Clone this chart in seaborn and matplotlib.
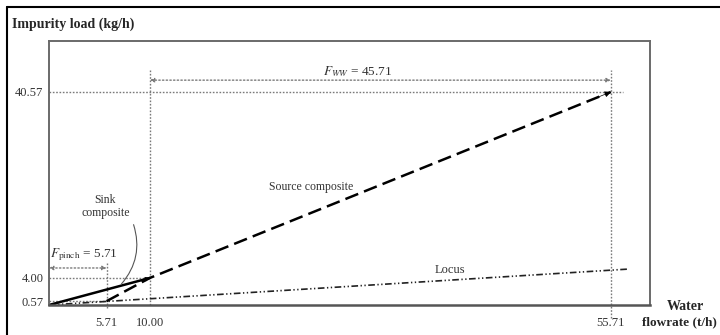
import numpy as np
import matplotlib
matplotlib.use("Agg")
import matplotlib.pyplot as plt
from matplotlib.lines import Line2D
import seaborn as sns

# Composite curves (water flowrate t/h, impurity load kg/h)
sink_flow = [0.0, 10.00]
sink_load = [0.0, 4.00]
source_flow = [5.71, 10.00, 55.71]
source_load = [0.57, 4.00, 40.57]
locus_flow = [0.0, 57.5]
locus_load = [0.0, 5.75]

pinch_flow = 5.71
pinch_load = 0.57
fresh_flow = 10.00
fresh_load = 4.00
end_flow = 55.71
end_load = 40.57
ww_flow = end_flow - fresh_flow        # 45.71
pinch_gap = pinch_flow                 # 5.71

x_ticks = [5.71, 10.00, 55.71]
y_ticks = [0.57, 4.00, 40.57]

sns.set_style("white")
plt.rcParams["font.family"] = ["Liberation Serif", "DejaVu Serif"]
plt.rcParams["mathtext.fontset"] = "stix"

# Schematic load axis: the low band (below the fresh-water load) is stretched
KNEE, STRETCH = 4.0, 1.33


def fwd(y):
    y = np.asarray(y, dtype=float)
    return np.where(y < KNEE, y * STRETCH, KNEE * STRETCH + (y - KNEE))


def inv(u):
    u = np.asarray(u, dtype=float)
    return np.where(u < KNEE * STRETCH, u / STRETCH, KNEE + (u - KNEE * STRETCH))


fig = plt.figure(figsize=(7.2, 3.35), dpi=100)
ax = fig.add_axes([49 / 720, 1 - 305 / 335, (650 - 49) / 720, (305 - 41) / 335])
ax.set_yscale("function", functions=(fwd, inv))
ax.set_xlim(0, 59.6)
ax.set_ylim(0, 50.6)

grey = "#7a7a7a"
dot = (0, (1.2, 1.2))

# Guide lines
ax.plot([0, fresh_flow], [fresh_load, fresh_load], color=grey, lw=1, ls=dot)
ax.plot([0, pinch_flow], [pinch_load, pinch_load], color=grey, lw=1, ls=dot)
ax.plot([0, 56.9], [end_load, end_load], color=grey, lw=1, ls=dot)
ax.plot([fresh_flow, fresh_flow], [0, 44.9], color=grey, lw=1, ls=dot)
ax.plot([pinch_flow, pinch_flow], [-0.5, 7.1], color=grey, lw=1, ls=dot, clip_on=False)
ax.plot([end_flow, end_flow], [-1.9, 44.9], color=grey, lw=1, ls=dot, clip_on=False)

# Composite curves and locus
sns.lineplot(x=locus_flow, y=locus_load, ax=ax, color="#222222", lw=1.2,
             linestyle=(0, (4, 1.5, 0.8, 1.5, 0.8, 1.5)), sort=False, estimator=None)
sns.lineplot(x=sink_flow, y=sink_load, ax=ax, color="black", lw=1.8,
             sort=False, estimator=None)
sns.lineplot(x=source_flow, y=source_load, ax=ax, color="black", lw=1.8,
             linestyle=(0, (5.5, 2.5)), sort=False, estimator=None)


def head(xs, ys, size=9):
    x0 = xs[-1] - 0.03 * (xs[-1] - xs[-2])
    y0 = ys[-1] - 0.03 * (ys[-1] - ys[-2])
    ax.annotate("", xy=(xs[-1], ys[-1]), xytext=(x0, y0),
                arrowprops=dict(arrowstyle="-|>", color="black", lw=0.5,
                                mutation_scale=size, shrinkA=0, shrinkB=0))


head(source_flow, source_load)
head(sink_flow, sink_load, size=7)

# Flowrate spans
ax.annotate("", xy=(fresh_flow, 42.9), xytext=(end_flow, 42.9),
            arrowprops=dict(arrowstyle="<|-|>", color=grey, lw=1, ls=":",
                            mutation_scale=6, shrinkA=0, shrinkB=0))
ax.text(30.6, 44.6, rf"$F_{{WW}}$ = {ww_flow:.2f}",
        ha="center", va="center", fontsize=9.5, color="#333333")
ax.annotate("", xy=(0, 5.96), xytext=(pinch_flow, 5.96),
            arrowprops=dict(arrowstyle="<|-|>", color=grey, lw=1, ls=":",
                            mutation_scale=6, shrinkA=0, shrinkB=0),
            annotation_clip=False)
ax.text(0.1, 8.5, rf"$F_{{\rm pinch}}$ = {pinch_gap:.2f}",
        ha="left", va="center", fontsize=9.5, color="#333333")

# Curve labels
ax.text(5.6, 18.0, "Sink\ncomposite", ha="center", va="center", fontsize=8.5,
        color="#333333", linespacing=1.1)
ax.annotate("", xy=(7.0, 2.8), xytext=(8.3, 15.0),
            arrowprops=dict(arrowstyle="-", color="#555555", lw=0.8,
                            connectionstyle="arc3,rad=-0.3"))
ax.text(26.0, 21.9, "Source composite", ha="center", va="center", fontsize=8.5,
        color="#333333")
ax.text(39.8, 5.6, "Locus", ha="center", va="center", fontsize=9, color="#333333")

# Axes styling
ax.set_xticks(x_ticks)
ax.set_xticklabels([f"{v:.2f}" for v in x_ticks])
ax.set_yticks(y_ticks)
ax.set_yticklabels([f"{v:.2f}" for v in y_ticks])
ax.minorticks_off()
ax.tick_params(axis="x", length=0, pad=9, labelsize=9, labelcolor="#333333")
ax.tick_params(axis="y", length=2, pad=2, labelsize=9, labelcolor="#333333", color=grey)
for side, sp in ax.spines.items():
    sp.set_visible(True)
    sp.set_color("#6a6a6a")
    sp.set_linewidth(1.4)
ax.spines["bottom"].set_color("#555555")
ax.spines["bottom"].set_linewidth(1.8)

fig.text(12 / 720, 1 - 24 / 335, "Impurity load (kg/h)", ha="left", va="center",
         fontsize=10, fontweight="bold")
fig.text(685 / 720, 1 - 307 / 335, "Water", ha="center", va="center",
         fontsize=10, fontweight="bold")
fig.text(642 / 720, 1 - 322 / 335, "flowrate (t/h)", ha="left", va="center",
         fontsize=9.5, fontweight="bold")

# Outer frame
fig.add_artist(Line2D([7 / 720, 7 / 720], [0, 1 - 7 / 335], transform=fig.transFigure,
                      color="black", lw=1.5))
fig.add_artist(Line2D([7 / 720, 1], [1 - 7 / 335, 1 - 7 / 335], transform=fig.transFigure,
                      color="black", lw=1.5))

fig.savefig("out.png", dpi=100)
